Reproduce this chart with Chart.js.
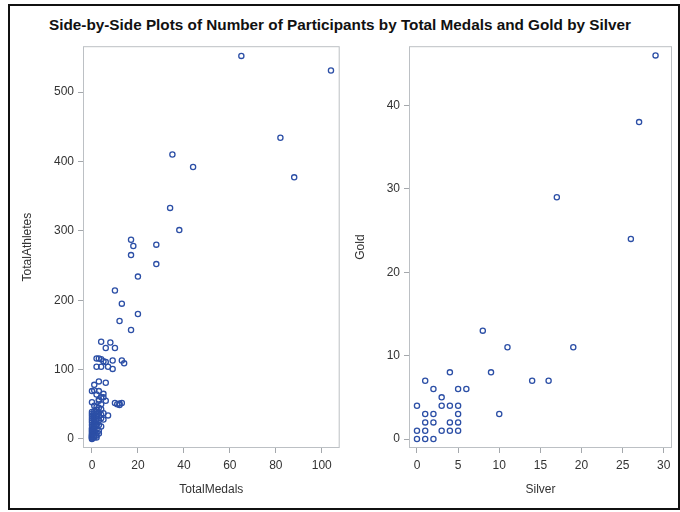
<!DOCTYPE html>
<html>
<head>
<meta charset="utf-8">
<script src="https://cdn.jsdelivr.net/npm/chart.js@4/dist/chart.umd.min.js"></script>
<style>
  body { margin: 0; background: #fff; }
  #page { position: relative; width: 680px; height: 512px; }
  #frame { position: absolute; left: 8px; top: 4px; width: 668px; height: 502px; border: 2px solid #111; }
  #title { position: absolute; left: 0; top: 16px; width: 680px; text-align: center;
    font: bold 15.3px 'Liberation Sans', Arial, sans-serif; color: #111; }
  #left { position: absolute; left: 10px; top: 35px; }
  #right { position: absolute; left: 345px; top: 35px; }
</style>
</head>
<body>
<div id="page">
  <div id="frame"></div>
  <div id="title">Side-by-Side Plots of Number of Participants by Total Medals and Gold by Silver</div>
  <canvas id="left" width="335" height="470"></canvas>
  <canvas id="right" width="333" height="470"></canvas>
</div>
<script>
'use strict';

// left panel: TotalMedals vs TotalAthletes
const totalMedals = [
  65, 104, 82, 88, 35, 44, 34, 38, 17, 18, 28, 17, 28, 20, 10, 13, 20, 12, 17,
  4, 8, 6, 10, 2, 3, 4, 5, 6, 9, 13, 14, 2, 4, 7, 9,
  3, 1, 6, 0, 1, 3, 5, 2, 4, 5, 3, 0, 3, 6, 4, 3, 4, 10, 11, 12, 13, 12, 7, 5, 4,
  0, 0, 0, 0, 0, 0, 0, 0, 0, 0, 0, 0, 0, 0, 0, 0, 0, 0, 0,
  1, 1, 1, 1, 1, 1, 1, 1, 1, 1, 1, 1, 1, 1, 1, 1,
  2, 2, 2, 2, 2, 2, 2, 2, 2, 2, 2, 2,
  3, 3, 3, 3, 3, 3, 4, 4, 5, 1, 2
];
const totalAthletes = [
  552, 531, 434, 377, 410, 392, 333, 301, 287, 278, 280, 265, 252, 234, 214, 195, 180, 170, 157,
  140, 139, 131, 131, 116, 116, 115, 112, 111, 113, 113, 109, 104, 104, 104, 101,
  83, 78, 81, 69, 70, 69, 65, 64, 60, 60, 57, 53, 55, 55, 50, 45, 43, 52, 50, 51, 52, 49, 34, 28, 30,
  0, 1, 2, 3, 4, 5, 6, 8, 10, 12, 14, 16, 20, 24, 27, 30, 33, 36, 39,
  2, 4, 6, 8, 10, 12, 15, 18, 20, 22, 25, 28, 31, 34, 37, 40,
  5, 9, 14, 19, 24, 29, 33, 36, 39, 42, 46, 2,
  8, 12, 20, 27, 33, 38, 18, 35, 37, 48, 22
];
const medalTicks = [0, 20, 40, 60, 80, 100];
const athleteTicks = [0, 100, 200, 300, 400, 500];

// right panel: Silver vs Gold
const silver = [
  29, 27, 17, 26, 19, 8, 11, 14, 16, 10, 9, 4,
  1, 2, 5, 6, 3, 0, 3, 4, 5, 1, 2, 5, 1, 2, 4, 5,
  0, 1, 3, 4, 5, 0, 1, 2
];
const gold = [
  46, 38, 29, 24, 11, 13, 11, 7, 7, 3, 8, 8,
  7, 6, 6, 6, 5, 4, 4, 4, 4, 3, 3, 3, 2, 2, 2, 2,
  1, 1, 1, 1, 1, 0, 0, 0
];
const silverTicks = [0, 5, 10, 15, 20, 25, 30];
const goldTicks = [0, 10, 20, 30, 40];

const FONT = "'Liberation Sans', Arial, sans-serif";
const MARK = '#2c4fa6';
const FRAME = '#bcc0c4';

Chart.defaults.font.family = FONT;
Chart.defaults.color = '#333';

const framePlugin = {
  id: 'frame',
  beforeDatasetsDraw(chart) {
    const { ctx, chartArea: a } = chart;
    ctx.save();
    ctx.strokeStyle = FRAME;
    ctx.lineWidth = 1;
    ctx.strokeRect(a.left + 0.5, a.top + 0.5, a.right - a.left - 1, a.bottom - a.top - 1);
    ctx.restore();
  },
};

function toPoints(xs, ys) {
  return xs.map((x, i) => ({ x: x, y: ys[i] }));
}

function axis(min, max, tickValues, title, isX, titlePad, size) {
  return {
    type: 'linear',
    min: min,
    max: max,
    afterBuildTicks: (scale) => {
      scale.ticks = tickValues.map((v) => ({ value: v }));
    },
    afterFit: (scale) => {
      if (isX) scale.height = size;
      else scale.width = size;
    },
    border: { display: false },
    grid: { drawOnChartArea: false, drawTicks: true, tickLength: 5, color: '#a4a8ac' },
    ticks: { font: { size: 12 }, color: '#333', padding: isX ? 5 : 4, maxRotation: 0, autoSkip: false },
    title: {
      display: true,
      text: title,
      font: { size: 12 },
      color: '#333',
      padding: isX ? { top: 0, bottom: titlePad } : { top: titlePad, bottom: 0 },
    },
  };
}

function scatter(id, xs, ys, xAxis, yAxis, padRight) {
  return new Chart(document.getElementById(id).getContext('2d'), {
    type: 'scatter',
    data: {
      datasets: [
        {
          data: toPoints(xs, ys),
          pointStyle: 'circle',
          pointRadius: 2.6,
          pointBorderWidth: 1.3,
          pointBorderColor: MARK,
          pointBackgroundColor: 'rgba(0,0,0,0)',
        },
      ],
    },
    options: {
      responsive: false,
      animation: false,
      layout: { padding: { top: 8, right: padRight, left: 0, bottom: 0 } },
      plugins: { legend: { display: false }, tooltip: { enabled: false } },
      scales: { x: xAxis, y: yAxis },
    },
    plugins: [framePlugin],
  });
}

scatter(
  'left', totalMedals, totalAthletes,
  axis(-3.9, 107.8, medalTicks, 'TotalMedals', true, 8, 57),
  axis(-13, 566, athleteTicks, 'TotalAthletes', false, 10, 73),
  5
);

scatter(
  'right', silver, gold,
  axis(-0.97, 31, silverTicks, 'Silver', true, 8, 57),
  axis(-1.07, 47.1, goldTicks, 'Gold', false, 8, 64),
  6
);
</script>
</body>
</html>
